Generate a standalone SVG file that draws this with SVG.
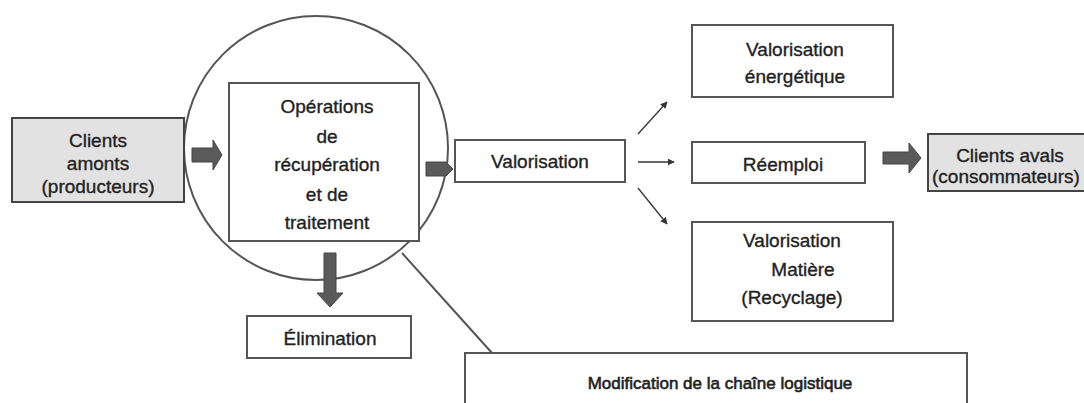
<svg xmlns="http://www.w3.org/2000/svg" width="1084" height="403" viewBox="0 0 1084 403">
  <defs>
    <marker id="head" viewBox="0 0 10 10" refX="9" refY="5" markerWidth="7" markerHeight="7" orient="auto" markerUnits="userSpaceOnUse">
      <path d="M0,0 L10,5 L0,10 Z" fill="#333"/>
    </marker>
    <style>
      .box { fill: #fff; stroke: #555; stroke-width: 2; }
      .client { fill: #e2e2e2; stroke: #444; stroke-width: 2; }
      .ring { fill: none; stroke: #555; stroke-width: 2; }
      .fat { fill: #5a5a5a; stroke: #444; stroke-width: 1; }
      .thin { fill: none; stroke: #333; stroke-width: 1.3; }
      .lead { fill: none; stroke: #555; stroke-width: 2; }
      text { font-family: "Liberation Sans", Arial, sans-serif; font-size: 19px; fill: #222; stroke: #222; stroke-width: 0.35; text-anchor: middle; }
      .small { font-size: 17px; stroke-width: 0.6; }
    </style>
  </defs>
  <rect width="1084" height="403" fill="#fff"/>

  <!-- magnified recovery area -->
  <circle class="ring" cx="316" cy="148" r="132"/>

  <g id="clients-amonts">
    <rect class="client" x="12" y="118" width="172" height="84"/>
    <text x="98" y="147">Clients</text>
    <text x="98" y="170">amonts</text>
    <text x="98" y="193">(producteurs)</text>
  </g>

  <g id="operations">
    <rect class="box" x="229" y="83" width="190" height="158"/>
    <text x="327" y="113">Opérations</text>
    <text x="327" y="143">de</text>
    <text x="327" y="171">récupération</text>
    <text x="327" y="201">et de</text>
    <text x="327" y="229">traitement</text>
  </g>

  <g id="valorisation">
    <rect class="box" x="455" y="140" width="170" height="42"/>
    <text x="540" y="168">Valorisation</text>
  </g>

  <g id="valorisation-energetique">
    <rect class="box" x="692" y="25" width="201" height="72"/>
    <text x="795" y="56">Valorisation</text>
    <text x="795" y="83">énergétique</text>
  </g>

  <g id="reemploi">
    <rect class="box" x="692" y="142" width="173" height="41"/>
    <text x="783" y="171">Réemploi</text>
  </g>

  <g id="valorisation-matiere">
    <rect class="box" x="692" y="222" width="201" height="99"/>
    <text x="792" y="247">Valorisation</text>
    <text x="803" y="276">Matière</text>
    <text x="792" y="304">(Recyclage)</text>
  </g>

  <g id="clients-avals">
    <rect class="client" x="928" y="134" width="170" height="57"/>
    <text x="1010" y="162">Clients avals</text>
    <text x="932" y="183" style="text-anchor:start">(consommateurs)</text>
  </g>

  <g id="elimination">
    <rect class="box" x="247" y="316" width="164" height="42"/>
    <text x="330" y="345">Élimination</text>
  </g>

  <g id="modification">
    <rect class="box" x="465" y="353" width="502" height="60"/>
    <text class="small" x="720" y="389">Modification de la chaîne logistique</text>
  </g>

  <g id="connectors">
    <!-- block arrows -->
    <path class="fat" d="M192,148 H213 V140 L222,155 L213,170 V162 H192 Z"/>
    <path class="fat" d="M426,162 H446 L453,169 L446,176 H426 Z"/>
    <path class="fat" d="M883,152 H909 V143 L921,158 L909,173 V164 H883 Z"/>
    <path class="fat" d="M324,253 H336 V293 H343 L330,307 L317,293 H324 Z"/>
    <!-- thin arrows out of valorisation -->
    <line class="thin" x1="638" y1="134" x2="667" y2="102" marker-end="url(#head)"/>
    <line class="thin" x1="638" y1="162" x2="674" y2="162" marker-end="url(#head)"/>
    <line class="thin" x1="638" y1="188" x2="667" y2="224" marker-end="url(#head)"/>
    <!-- callout line from the circle -->
    <line class="lead" x1="402" y1="253" x2="492" y2="353"/>
  </g>
</svg>
